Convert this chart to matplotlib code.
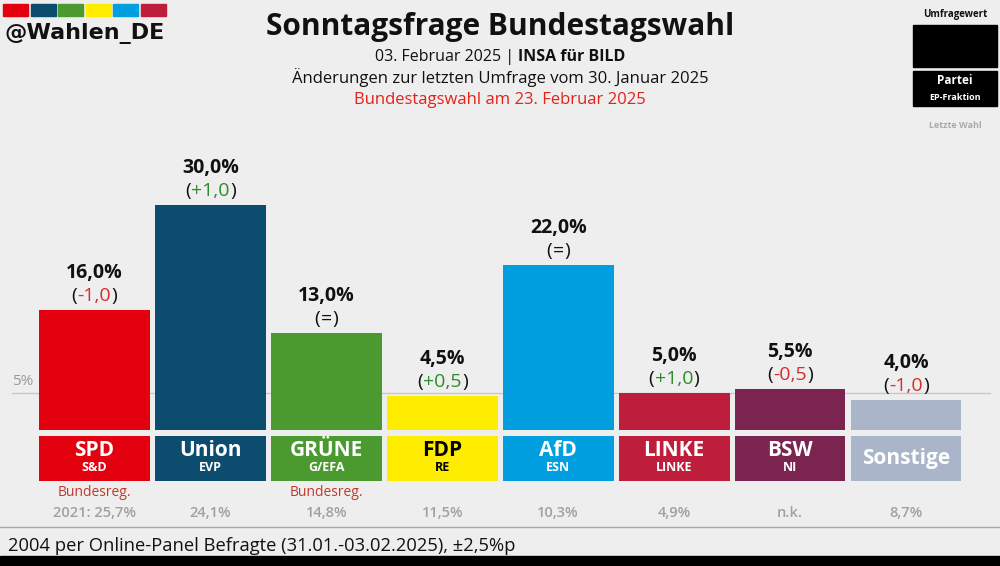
import matplotlib
matplotlib.use("Agg")
import matplotlib.pyplot as plt
from matplotlib.patches import Rectangle
from matplotlib.transforms import blended_transform_factory

plt.rcParams['font.family'] = ['Open Sans', 'DejaVu Sans']

parteien = ["SPD", "Union", "GRÜNE", "FDP", "AfD", "LINKE", "BSW", "Sonstige"]
fraktion = ["S&D", "EVP", "G/EFA", "RE", "ESN", "LINKE", "NI", ""]
werte = [16.0, 30.0, 13.0, 4.5, 22.0, 5.0, 5.5, 4.0]
aenderung = ["-1,0", "+1,0", "=", "+0,5", "=", "+1,0", "-0,5", "-1,0"]
letzte_wahl = ["2021: 25,7%", "24,1%", "14,8%", "11,5%", "10,3%", "4,9%", "n.k.", "8,7%"]
regierung = ["Bundesreg.", "", "Bundesreg.", "", "", "", "", ""]
farben = ["#e3000f", "#0c4d6f", "#4a9a30", "#ffed00", "#019ee0", "#be1e3c", "#7b2450", "#aab5c9"]
textfarbe = ["white", "white", "white", "black", "white", "white", "white", "white"]

bg = "#eeeeee"
fig = plt.figure(figsize=(10, 5.66), dpi=100, facecolor=bg)
ax = fig.add_axes([0.0365, 36 / 566, 0.9275, 400 / 566])
ax.set_facecolor("none")
ax.set_xlim(-0.5, 7.5)
ax.set_ylim(-13.333, 40)
ax.axis("off")

x = list(range(len(parteien)))
breite = 0.955

# 5%-Linie
tr = blended_transform_factory(fig.transFigure, ax.transData)
ax.plot([0.012, 0.99], [5, 5], color="#c8c8c8", lw=1, transform=tr, zorder=0, clip_on=False)
ax.text(0.012, 5.5, "5%", transform=tr, fontsize=11, color="#999999", va="bottom", ha="left")

ax.bar(x, werte, width=breite, color=farben, align="center", zorder=2)
# Namensfelder
ax.bar(x, [6.0] * len(x), bottom=-6.8, width=breite, color=farben, zorder=2)

fig.canvas.draw()
renderer = fig.canvas.get_renderer()

for i in x:
    ax.annotate(f"{werte[i]:.1f}%".replace(".", ","), (i, werte[i]), xytext=(0, 37),
                textcoords="offset pixels", ha="center", va="center",
                fontsize=14, fontweight="bold", color="#111111")
    a = aenderung[i]
    col = "#2e8b2e" if a.startswith("+") else ("#d32f2f" if a.startswith("-") else "#111111")
    t = ax.annotate(a, (i, werte[i]), xytext=(0, 14), textcoords="offset pixels",
                    ha="center", va="center", fontsize=14, color=col)
    bb = t.get_window_extent(renderer)
    w = (bb.x1 - bb.x0) / 2
    ax.annotate("(", (i, werte[i]), xytext=(-w - 0.5, 14), textcoords="offset pixels",
                ha="right", va="center", fontsize=14, color="#111111")
    ax.annotate(")", (i, werte[i]), xytext=(w + 0.5, 14), textcoords="offset pixels",
                ha="left", va="center", fontsize=14, color="#111111")

    if fraktion[i]:
        ax.text(i, -2.7, parteien[i], ha="center", va="center", fontsize=15,
                fontweight="bold", color=textfarbe[i])
        ax.text(i, -5.0, fraktion[i], ha="center", va="center", fontsize=9,
                fontweight="bold", color=textfarbe[i])
    else:
        ax.text(i, -3.8, parteien[i], ha="center", va="center", fontsize=15,
                fontweight="bold", color=textfarbe[i])
    if regierung[i]:
        ax.text(i, -8.3, regierung[i], ha="center", va="center", fontsize=10, color="#c0392b")
    ax.text(i, -11.1, letzte_wahl[i], ha="center", va="center", fontsize=10.5,
            fontweight="semibold", color="#a0a0a0")

# Kopfbereich
fig.text(0.5, 1 - 27 / 566, "Sonntagsfrage Bundestagswahl", ha="center", va="center",
         fontsize=21.5, fontweight="bold", color="#111111")
t1 = fig.text(0.5, 1 - 57 / 566, "03. Februar 2025 | ", ha="right", va="center",
              fontsize=11.5, color="#111111")
t2 = fig.text(0.5, 1 - 57 / 566, "INSA für BILD", ha="left", va="center",
              fontsize=11.5, fontweight="bold", color="#111111")
fig.text(0.5, 1 - 78 / 566, "Änderungen zur letzten Umfrage vom 30. Januar 2025", ha="center",
         va="center", fontsize=12, color="#111111")
fig.text(0.5, 1 - 100 / 566, "Bundestagswahl am 23. Februar 2025", ha="center", va="center",
         fontsize=12, color="#e0221b")
# Zeile 2 zentrieren
fig.canvas.draw()
bb1 = t1.get_window_extent(renderer)
bb2 = t2.get_window_extent(renderer)
shift = ((bb1.x1 - bb1.x0) - (bb2.x1 - bb2.x0)) / 2 / 1000
t1.set_x(0.5 + shift)
t2.set_x(0.5 + shift)

logo = ["#e3000f", "#0c4d6f", "#4a9a30", "#ffed00", "#019ee0", "#be1e3c"]
for k, c in enumerate(logo):
    fig.patches.append(Rectangle(((3 + k * 27.5) / 1000, 1 - 16 / 566), 25 / 1000, 12 / 566,
                                 transform=fig.transFigure, color=c))
fig.text(0.004, 1 - 34 / 566, "@Wahlen_DE", ha="left", va="center", fontsize=16,
         fontweight="bold", color="#111111", family=["DejaVu Sans"])

# Legende rechts oben
fig.text(0.955, 1 - 14 / 566, "Umfragewert", ha="center", va="center", fontsize=7,
         fontweight="bold", color="#111111")
fig.patches.append(Rectangle((0.913, 1 - 67 / 566), 0.084, 42 / 566,
                             transform=fig.transFigure, color="black"))
fig.patches.append(Rectangle((0.913, 1 - 106 / 566), 0.084, 35 / 566,
                             transform=fig.transFigure, color="black"))
fig.text(0.955, 1 - 80 / 566, "Partei", ha="center", va="center", fontsize=8.5,
         fontweight="bold", color="white")
fig.text(0.955, 1 - 97 / 566, "EP-Fraktion", ha="center", va="center", fontsize=6.5,
         fontweight="bold", color="white")
fig.text(0.955, 1 - 125 / 566, "Letzte Wahl", ha="center", va="center", fontsize=6.5,
         fontweight="bold", color="#aaaaaa")

# Fußzeile
fig.lines.append(plt.Line2D([0, 1], [1 - 527 / 566] * 2, transform=fig.transFigure,
                            color="#aaaaaa", lw=1))
fig.text(0.008, 1 - 546 / 566, "2004 per Online-Panel Befragte (31.01.-03.02.2025), ±2,5%p",
         ha="left", va="center", fontsize=13.2, color="#111111")
fig.patches.append(Rectangle((0, 0), 1, 10 / 566, transform=fig.transFigure, color="black"))

fig.savefig("out.png", dpi=100, facecolor=bg)
